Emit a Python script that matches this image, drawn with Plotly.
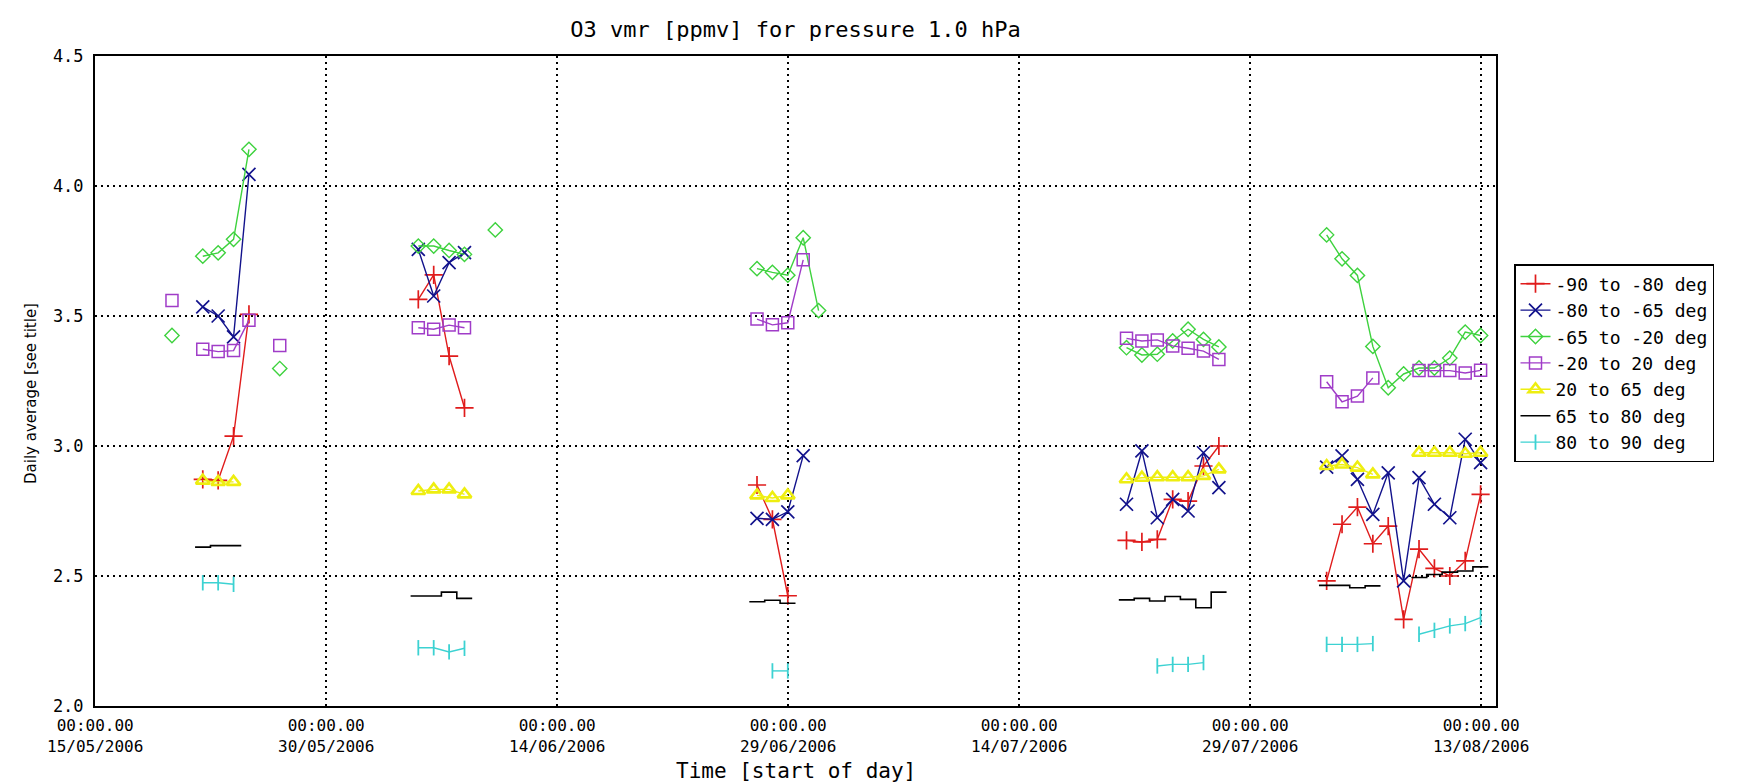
import plotly.graph_objects as go
from datetime import datetime, timedelta

# ---------------- data (days after 15/05/2006 00:00, daily averages) ----------------
BASE = datetime(2006, 5, 15)
X_END_DAY = 91

red_days = [7, 8, 9, 10, 21, 22, 23, 24, 43, 44, 45, 67, 68, 69, 70, 71, 72, 73,
            80, 81, 82, 83, 84, 85, 86, 87, 88, 89, 90]
red_vals = [2.872, 2.868, 3.038, 3.506, 3.564, 3.658, 3.346, 3.147, 2.850, 2.718, 2.424,
            2.637, 2.631, 2.641, 2.795, 2.788, 2.923, 3.000,
            2.481, 2.699, 2.765, 2.624, 2.692, 2.333, 2.603, 2.529, 2.500, 2.558, 2.814]

blue_days = [7, 8, 9, 10, 21, 22, 23, 24, 43, 44, 45, 46, 67, 68, 69, 70, 71, 72, 73,
             80, 81, 82, 83, 84, 85, 86, 87, 88, 89, 90]
blue_vals = [3.535, 3.500, 3.420, 4.045, 3.756, 3.577, 3.705, 3.744, 2.722, 2.718, 2.747, 2.963,
             2.776, 2.981, 2.724, 2.795, 2.750, 2.974, 2.840,
             2.919, 2.962, 2.872, 2.737, 2.897, 2.481, 2.878, 2.776, 2.724, 3.026, 2.936]

green_days = [5, 7, 8, 9, 10, 12, 21, 22, 23, 24, 26, 43, 44, 45, 46, 47,
              67, 68, 69, 70, 71, 72, 73, 80, 81, 82, 83, 84, 85, 86, 87, 88, 89, 90]
green_vals = [3.425, 3.730, 3.743, 3.795, 4.141, 3.298, 3.769, 3.769, 3.752, 3.737, 3.831,
              3.682, 3.668, 3.657, 3.801, 3.521,
              3.378, 3.350, 3.353, 3.404, 3.449, 3.410, 3.381,
              3.812, 3.720, 3.656, 3.383, 3.224, 3.277, 3.300, 3.300, 3.338, 3.438, 3.425]

purple_days = [5, 7, 8, 9, 10, 12, 21, 22, 23, 24, 43, 44, 45, 46,
               67, 68, 69, 70, 71, 72, 73, 80, 81, 82, 83, 86, 87, 88, 89, 90]
purple_vals = [3.560, 3.372, 3.363, 3.367, 3.484, 3.387, 3.455, 3.449, 3.465, 3.455,
               3.488, 3.466, 3.474, 3.716,
               3.414, 3.404, 3.408, 3.385, 3.376, 3.365, 3.333,
               3.247, 3.170, 3.192, 3.262, 3.290, 3.290, 3.290, 3.281, 3.291]

yellow_days = [7, 8, 9, 21, 22, 23, 24, 43, 44, 45, 67, 68, 69, 70, 71, 72, 73,
               80, 81, 82, 83, 86, 87, 88, 89, 90]
yellow_vals = [2.867, 2.862, 2.862, 2.827, 2.833, 2.833, 2.814, 2.810, 2.800, 2.810,
               2.872, 2.878, 2.880, 2.880, 2.880, 2.885, 2.910,
               2.923, 2.929, 2.917, 2.891, 2.974, 2.974, 2.974, 2.970, 2.974]

black_days = [7, 8, 9, 21, 22, 23, 24, 43, 44, 45, 67, 68, 69, 70, 71, 72, 73,
              80, 81, 82, 83, 86, 87, 88, 89, 90]
black_vals = [2.611, 2.617, 2.617, 2.423, 2.423, 2.438, 2.414, 2.401, 2.407, 2.395,
              2.408, 2.414, 2.404, 2.421, 2.410, 2.378, 2.438,
              2.464, 2.464, 2.455, 2.462, 2.494, 2.506, 2.515, 2.519, 2.535]

cyan_days = [7, 8, 9, 21, 22, 23, 24, 44, 45, 69, 70, 71, 72,
             80, 81, 82, 83, 86, 87, 88, 89, 90]
cyan_vals = [2.474, 2.474, 2.468, 2.224, 2.224, 2.208, 2.222, 2.135, 2.135,
             2.154, 2.160, 2.160, 2.167,
             2.237, 2.237, 2.237, 2.240, 2.276, 2.291, 2.308, 2.317, 2.340]

series_names = ["-90 to -80 deg", "-80 to -65 deg", "-65 to -20 deg", "-20 to 20 deg",
                "20 to 65 deg", "65 to 80 deg", "80 to 90 deg"]

tick_days = [0, 15, 30, 45, 60, 75, 90]
tick_labels = ["00:00.00<br>15/05/2006", "00:00.00<br>30/05/2006", "00:00.00<br>14/06/2006",
               "00:00.00<br>29/06/2006", "00:00.00<br>14/07/2006", "00:00.00<br>29/07/2006",
               "00:00.00<br>13/08/2006"]
y_ticks = [2.0, 2.5, 3.0, 3.5, 4.0, 4.5]
y_tick_labels = ["2.0", "2.5", "3.0", "3.5", "4.0", "4.5"]

title_text = "O3 vmr [ppmv] for pressure 1.0 hPa"
x_title = "Time [start of day]"
y_title = "Daily average [see title]"


# ---------------- helpers ----------------
def to_date(d):
    return BASE + timedelta(days=d)


def with_gaps(days, vals):
    xs, ys = [], []
    for i, (d, v) in enumerate(zip(days, vals)):
        if i > 0 and d - days[i - 1] > 1:
            xs.append(None)
            ys.append(None)
        xs.append(to_date(d))
        ys.append(v)
    return xs, ys


def histogram_steps(days, vals):
    # IDL psym=10 style: each daily value drawn as a flat step one day wide
    xs, ys = [], []
    for i, (d, v) in enumerate(zip(days, vals)):
        if i > 0 and d - days[i - 1] > 1:
            xs.append(None)
            ys.append(None)
        xs += [to_date(d - 0.5), to_date(d + 0.5)]
        ys += [v, v]
    return xs, ys


MONO = "DejaVu Sans Mono"

fig = go.Figure()

styles = [
    (red_days, red_vals, "#e01c1c", "cross-thin", 13, 1.7),
    (blue_days, blue_vals, "#12128c", "x-thin", 13, 1.7),
    (green_days, green_vals, "#3ed23e", "diamond-open", 11, 1.4),
    (purple_days, purple_vals, "#a03cc8", "square-open", 12, 1.5),
    (yellow_days, yellow_vals, "#eeee10", "triangle-up-open", 12, 2.6),
]
for (days, vals, col, sym, size, mlw), name in zip(styles, series_names[:5]):
    xs, ys = with_gaps(days, vals)
    fig.add_trace(go.Scatter(
        x=xs, y=ys, name=name, mode="lines+markers",
        line=dict(color=col, width=1.4),
        marker=dict(symbol=sym, size=size, color=col, line=dict(color=col, width=mlw)),
    ))

bx, by = histogram_steps(black_days, black_vals)
fig.add_trace(go.Scatter(x=bx, y=by, name=series_names[5], mode="lines",
                         line=dict(color="black", width=1.6)))

cx, cy = with_gaps(cyan_days, cyan_vals)
fig.add_trace(go.Scatter(
    x=cx, y=cy, name=series_names[6], mode="lines+markers",
    line=dict(color="#3cd2d2", width=1.4),
    marker=dict(symbol="line-ns", size=11, color="#3cd2d2", line=dict(color="#3cd2d2", width=1.8)),
))

L, R, T, B = 87, 252, 48, 85
W, H = 1740, 783
plot_w = W - L - R
plot_h = H - T - B


def py(pixel_y):
    # container pixel row -> paper y
    return (H - B - pixel_y) / plot_h


annotations = [
    dict(text=y_title, xref="paper", yref="paper", x=(23 - L) / plot_w, y=py(386),
         textangle=-90, showarrow=False, xanchor="center", yanchor="middle",
         font=dict(family="DejaVu Sans", size=15, color="black")),
    dict(text=x_title, xref="paper", yref="paper", x=0.5, y=py(763),
         showarrow=False, xanchor="center", yanchor="middle",
         font=dict(family=MONO, size=21, color="black")),
]
for d, lab in zip(tick_days, tick_labels):
    annotations.append(dict(text=lab, xref="x", yref="paper", x=to_date(d), y=py(706),
                            showarrow=False, xanchor="center", yanchor="top",
                            font=dict(family=MONO, size=16, color="black")))

fig.update_layout(
    width=W, height=H,
    margin=dict(l=L, r=R, t=T, b=B, pad=0),
    paper_bgcolor="white", plot_bgcolor="white",
    font=dict(family=MONO, size=17, color="black"),
    title=dict(text=title_text, x=(L + plot_w / 2) / W, xanchor="center",
               y=1 - 21 / H, yanchor="middle", font=dict(family=MONO, size=22, color="black")),
    showlegend=True,
    legend=dict(
        x=(1506 - L) / plot_w, y=py(256), xanchor="left", yanchor="top",
        bgcolor="white", bordercolor="black", borderwidth=1.5,
        font=dict(family=MONO, size=18, color="black"),
        itemwidth=30, tracegroupgap=0, traceorder="normal",
    ),
    annotations=annotations,
)

fig.update_xaxes(
    type="date",
    range=[to_date(0), to_date(X_END_DAY)],
    tickvals=[to_date(d) for d in tick_days],
    showticklabels=False,
    ticks="",
    showgrid=True, gridcolor="black", gridwidth=1.5, griddash="2px,4px",
    showline=True, linecolor="black", linewidth=2, mirror=True,
    zeroline=False,
)
fig.update_yaxes(
    range=[2.0, 4.5],
    tickvals=y_ticks, ticktext=y_tick_labels,
    tickfont=dict(family=MONO, size=17, color="black"),
    ticks="", ticklabelstandoff=6,
    showgrid=True, gridcolor="black", gridwidth=1.5, griddash="2px,4px",
    showline=True, linecolor="black", linewidth=2, mirror=True,
    zeroline=False,
)

fig.write_html("out.html")
